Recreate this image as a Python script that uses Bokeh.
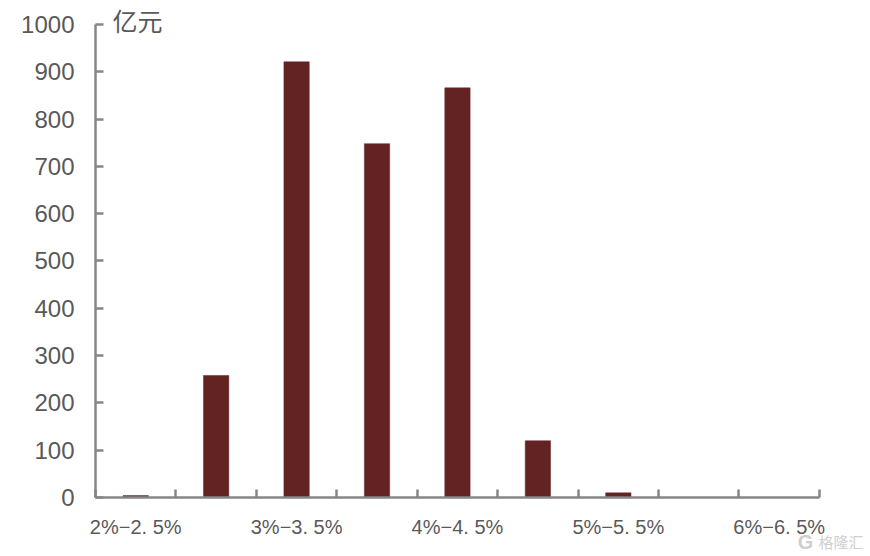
from bokeh.plotting import figure
from bokeh.models import Range1d, LinearAxis, FixedTicker, Label
from bokeh.embed import file_html
from bokeh.resources import INLINE

categories = ["2%−2. 5%", "2. 5%−3%", "3%−3. 5%", "3. 5%−4%", "4%−4. 5%",
              "4. 5%−5%", "5%−5. 5%", "5. 5%−6%", "6%−6. 5%"]
values = [4, 258, 921, 748, 866, 120, 10, 0, 0]
y_ticks = [0, 100, 200, 300, 400, 500, 600, 700, 800, 900, 1000]
unit = "亿元"
watermark = "格隆汇"
logo = "G"

BAR = "#642323"
AXIS = "#868686"
TEXT = "#595959"
FONT = "Liberation Sans"
CJK = "Noto Sans CJK SC"

n = len(categories)
x = [i + 0.5 for i in range(n)]

# The frame fills the canvas so nothing is clipped; axes are pinned at 0 and
# bounded to the data area.
p = figure(width=870, height=556, output_backend="svg", toolbar_location=None,
           x_range=Range1d(-1.181, 9.635), y_range=Range1d(-124.7, 1050.7),
           x_axis_location=None, y_axis_location=None,
           min_border_left=0, min_border_right=0, min_border_top=0, min_border_bottom=0)
p.outline_line_color = None
p.xgrid.visible = False
p.ygrid.visible = False
p.background_fill_color = "white"

p.vbar(x=x, top=values, bottom=0, width=0.315, fill_color=BAR, line_color=BAR, line_width=0.5)

yax = LinearAxis(ticker=FixedTicker(ticks=y_ticks), bounds=(0, 1000), fixed_location=0)
yax.axis_line_color = AXIS
yax.axis_line_width = 2.5
yax.major_tick_line_color = AXIS
yax.major_tick_line_width = 2.5
yax.major_tick_in = 8
yax.major_tick_out = 0
yax.major_label_text_color = TEXT
yax.major_label_text_font = FONT
yax.major_label_text_font_size = "24px"
yax.major_label_standoff = 21
yax.minor_tick_line_color = None
p.add_layout(yax, "left")

tick_ax = LinearAxis(ticker=FixedTicker(ticks=list(range(n + 1))), bounds=(0, n), fixed_location=0)
tick_ax.axis_line_color = AXIS
tick_ax.axis_line_width = 2.5
tick_ax.major_tick_line_color = AXIS
tick_ax.major_tick_line_width = 2.5
tick_ax.major_tick_in = 8
tick_ax.major_tick_out = 0
tick_ax.major_label_text_font_size = "0px"
tick_ax.major_label_text_color = None
tick_ax.major_label_standoff = 0
tick_ax.minor_tick_line_color = None
p.add_layout(tick_ax, "below")

label_pos = x[::2]
lab_ax = LinearAxis(ticker=FixedTicker(ticks=label_pos), fixed_location=0)
lab_ax.major_label_overrides = {pos: categories[i * 2] for i, pos in enumerate(label_pos)}
lab_ax.axis_line_color = None
lab_ax.major_tick_line_color = None
lab_ax.minor_tick_line_color = None
lab_ax.major_tick_in = 0
lab_ax.major_tick_out = 0
lab_ax.major_label_text_color = TEXT
lab_ax.major_label_text_font = FONT
lab_ax.major_label_text_font_size = "20px"
lab_ax.major_label_standoff = 18
p.add_layout(lab_ax, "below")

p.add_layout(Label(x=0.21, y=1000, y_offset=4, text=unit, text_color=TEXT, text_font=CJK,
                   text_font_size="25px", text_baseline="middle", text_align="left"))
p.add_layout(Label(x=863, y=15, x_units="screen", y_units="screen", text=watermark, text_color="#cfcfcf",
                   text_font=CJK, text_font_size="15px", text_baseline="middle", text_align="right"))
p.add_layout(Label(x=805, y=15, x_units="screen", y_units="screen", text=logo, text_color="#cfcfcf",
                   text_font="Liberation Sans", text_font_style="bold", text_font_size="20px",
                   text_baseline="middle", text_align="center"))

open("out.html", "w").write(file_html(p, INLINE))
